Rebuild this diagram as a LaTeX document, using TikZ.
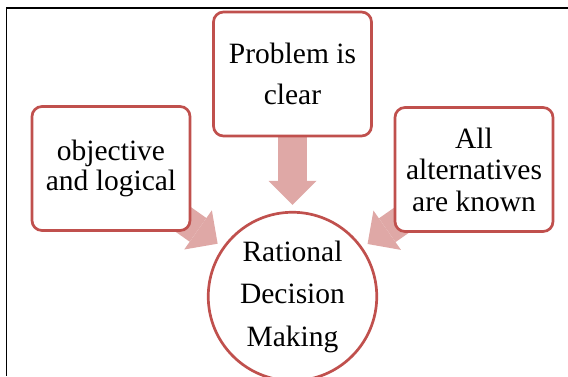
\documentclass[tikz,border=0pt]{standalone}
\usepackage{fontspec}
\setmainfont{Liberation Serif}
\usetikzlibrary{arrows.meta, backgrounds}
\definecolor{boxred}{RGB}{192,80,77}

\begin{document}
\begin{tikzpicture}[x=1pt, y=-1pt,
    cond/.style={draw=boxred, line width=2.7pt, fill=white, rounded corners=10pt,
        minimum width=158pt, minimum height=124pt, inner sep=0pt, align=center},
    goal/.style={circle, draw=boxred, line width=2.7pt, fill=white,
        minimum size=168.5pt, inner sep=0pt, align=center},
    bigarrow/.style={line width=29pt, draw=boxred!50!white,
        -{Triangle[width=48pt, length=24pt, line width'=0pt]}, shorten >=6pt}]
    \clip (0,0) rectangle (568,376);

    % frame, only top and left edges show
    \draw[line width=1.3pt] (6.5,376) -- (6.5,8) -- (568,8);

    % the three conditions
    \node[cond, font=\fontsize{29.5}{41}\selectfont] (clear) at (292.5,74) {Problem is\\clear};
    \node[cond, font=\fontsize{29.5}{30.5}\selectfont] (logic) at (111,168.5) {objective\\and logical};
    \node[cond, font=\fontsize{29.5}{31.5}\selectfont] (known) at (474,169.5) {All\\alternatives\\are known};

    % result
    \node[goal, font=\fontsize{29.5}{42.5}\selectfont] (rdm) at (292.5,296.5) {Rational\\Decision\\Making};

    % block arrows, kept behind the boxes
    \begin{scope}[on background layer]
        \draw[bigarrow] (clear.center) -- (rdm);
        \draw[bigarrow] (logic.center) -- (rdm);
        \draw[bigarrow] (known.center) -- (rdm);
    \end{scope}
\end{tikzpicture}
\end{document}
